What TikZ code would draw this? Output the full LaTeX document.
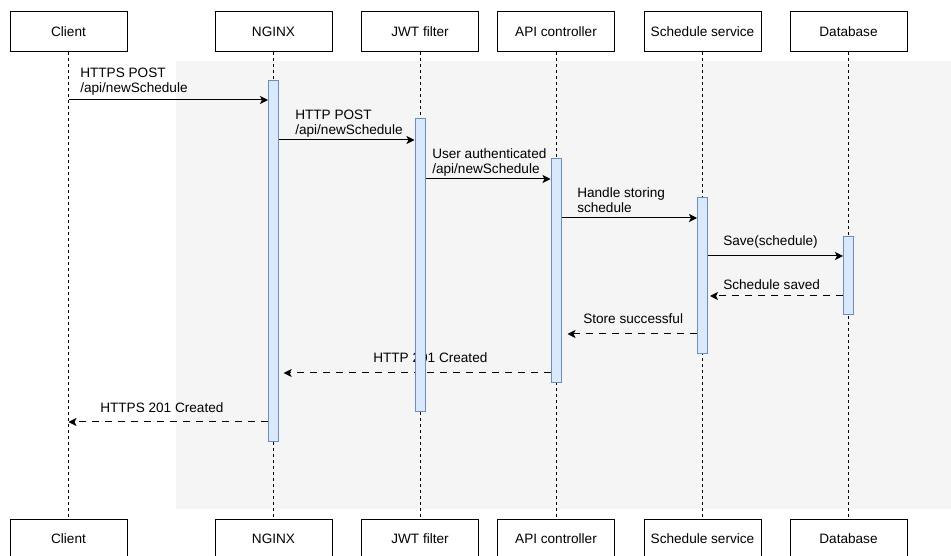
\documentclass[tikz,border=0pt]{standalone}
\usepackage{fontspec}
\setmainfont{Liberation Sans}
\usetikzlibrary{arrows.meta}
\definecolor{laneC}{HTML}{F5F5F5}
\definecolor{barC}{HTML}{DAE8FC}
\definecolor{barD}{HTML}{6C8EBF}
\pgfdeclarelayer{back}
\pgfdeclarelayer{front}
\pgfsetlayers{back,main,front}
\tikzset{
	actor/.style={draw, line width=0.75pt, minimum width=87.75pt, minimum height=30pt,
		inner sep=0pt, font=\fontsize{10.2}{11.25}\selectfont},
	lifeline/.style={line width=0.75pt, dash pattern=on 2.25pt off 2.25pt},
	actbar/.style={draw=barD, fill=barC, line width=0.75pt, minimum width=7.5pt,
		inner sep=0pt},
	msg/.style={-{Stealth[length=6pt,width=6pt,inset=1.5pt]}, line width=0.75pt},
	reply/.style={msg, dash pattern=on 5.25pt off 4.5pt},
	msglabel/.style={font=\fontsize{10.2}{11.25}\selectfont, align=left, inner sep=0pt,
		anchor=base west},
}

\begin{document}
\begin{tikzpicture}[x=0.75pt, y=-0.75pt]
	\clip (0,0) rectangle (951,556);
	
	% ================= Background =================
	\begin{pgfonlayer}{back}
		\fill[laneC] (176,61) rectangle (951,509);
	\end{pgfonlayer}
	
	% ================= Participants =================
	\node[actor] (cliTop) at (68.5,32) {Client};
	\node[actor] (ngxTop) at (273.5,32) {NGINX};
	\node[actor] (jwtTop) at (420,32) {JWT filter};
	\node[actor] (apiTop) at (556,32) {API controller};
	\node[actor] (schTop) at (702.5,32) {Schedule service};
	\node[actor] (dbTop) at (848.5,32) {Database};
	
	\node[actor] (cliBot) at (68.5,539) {Client};
	\node[actor] (ngxBot) at (273.5,539) {NGINX};
	\node[actor] (jwtBot) at (420,539) {JWT filter};
	\node[actor] (apiBot) at (556,539) {API controller};
	\node[actor] (schBot) at (702.5,539) {Schedule service};
	\node[actor] (dbBot) at (848.5,539) {Database};
	
	% Lifelines
	\begin{pgfonlayer}{back}
		\foreach \p in {cli,ngx,jwt,api,sch,db}
		\draw[lifeline] (\p Top.south) -- (\p Bot.north);
	\end{pgfonlayer}
	
	% ================= Activations =================
	\begin{pgfonlayer}{front}
		\node[actbar, minimum height=270pt] (ngxBar) at (273.5,261) {};
		\node[actbar, minimum height=219.75pt] (jwtBar) at (420,265.5) {};
		\node[actbar, minimum height=168pt] (apiBar) at (556,271) {};
		\node[actbar, minimum height=117pt] (schBar) at (702.5,276) {};
		\node[actbar, minimum height=58.5pt] (dbBar) at (848.5,276) {};
	\end{pgfonlayer}
	
	% ================= Requests =================
	\draw[msg] (cliTop.south |- 0,100) -- (ngxBar.west |- 0,100);
	\node[msglabel] (l1) at (80,93) {HTTPS POST\\/api/newSchedule};
	
	\draw[msg] (ngxBar.east |- 0,140) -- (jwtBar.west |- 0,140);
	\node[msglabel] (l2) at (295,135) {HTTP POST\\/api/newSchedule};
	
	\draw[msg] (jwtBar.east |- 0,179) -- (apiBar.west |- 0,179);
	\node[msglabel] (l3) at (432,174) {User authenticated\\/api/newSchedule};
	
	\draw[msg] (apiBar.east |- 0,218) -- (schBar.west |- 0,218);
	\node[msglabel] (l4) at (577,213) {Handle storing\\schedule};
	
	\draw[msg] (schBar.east |- 0,256) -- (dbBar.west |- 0,256);
	\node[msglabel] (l5) at (723,246) {Save(schedule)};
	
	% ================= Replies =================
	\draw[reply, shorten >=1.5pt] (dbBar.west |- 0,296) -- (schBar.east |- 0,296);
	\node[msglabel] (l6) at (723,290) {Schedule saved};
	
	\draw[reply, shorten >=4.5pt] (schBar.west |- 0,334) -- (apiBar.east |- 0,334);
	\node[msglabel] (l7) at (583,324) {Store successful};
	
	\draw[reply, shorten >=3.5pt] (apiBar.west |- 0,373) -- (ngxBar.east |- 0,373);
	\node[msglabel] (l8) at (373,363) {HTTP 201 Created};
	
	\draw[reply] (ngxBar.west |- 0,422) -- (cliTop.south |- 0,422);
	\node[msglabel] (l9) at (100,412) {HTTPS 201 Created};
	
\end{tikzpicture}
\end{document}
